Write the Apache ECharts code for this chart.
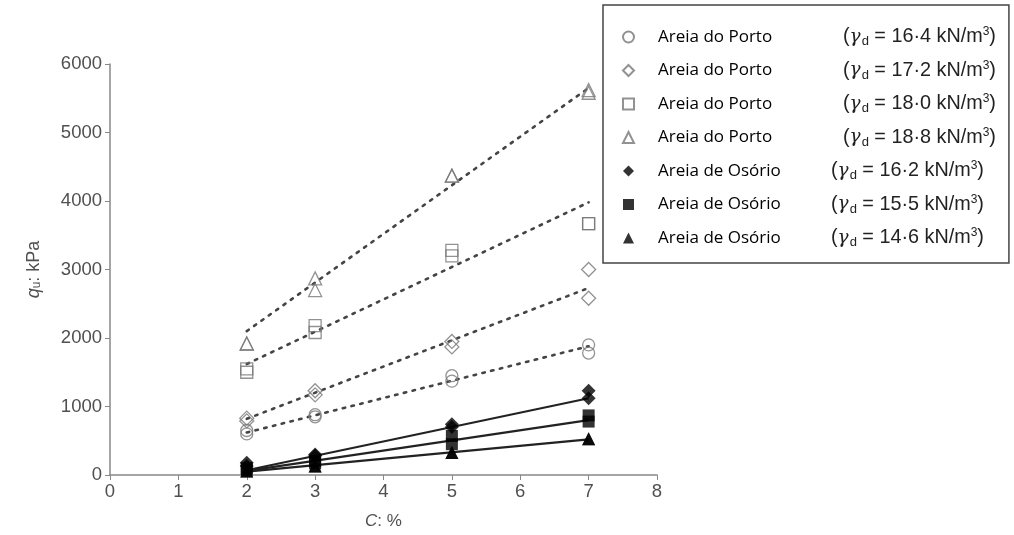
<!DOCTYPE html>
<html><head><meta charset="utf-8">
<script src="https://cdn.jsdelivr.net/npm/echarts@6/dist/echarts.min.js"></script>
<style>html,body{margin:0;padding:0;background:#fff}#c{width:1014px;height:535px}</style>
</head><body><div id="c"></div>
<script>
// ---- data ----
const xTicks = [0,1,2,3,4,5,6,7,8];
const yTicks = [0,1000,2000,3000,4000,5000,6000];
const seriesNames = ['P164','P172','P180','P188','O162','O155','O146'];
const sandLabels = ['Areia do Porto','Areia do Porto','Areia do Porto','Areia do Porto','Areia de Osório','Areia de Osório','Areia de Osório'];
const gammaLabels = ['16·4','17·2','18·0','18·8','16·2','15·5','14·6'];
const symbols = ['circle','diamond','rect','triangle','diamond','rect','triangle'];
const cPts = [2,2,3,3,5,5,7,7];
const qP164 = [650,600,880,850,1450,1370,1900,1780];
const qP172 = [830,790,1230,1170,1950,1870,3000,2580];
const qP180 = [1550,1500,2180,2080,3280,3200,3670,3670];
const qP188 = [1920,1920,2870,2700,4370,4370,5620,5580];
const qO162 = [180,130,300,280,740,700,1230,1120];
const qO155 = [100,80,200,170,570,450,870,780];
const qO146 = [60,60,130,130,330,330,530,530];
const fitC = [2,7];
const fitP164 = [620,1880];
const fitP172 = [820,2730];
const fitP180 = [1620,3980];
const fitP188 = [2100,5650];
const fitO162 = [70,1120];
const fitO155 = [60,800];
const fitO146 = [50,520];

const qAll = [qP164,qP172,qP180,qP188,qO162,qO155,qO146];
const fitAll = [fitP164,fitP172,fitP180,fitP188,fitO162,fitO155,fitO146];

const chart = echarts.init(document.getElementById('c'));
const series = [];
fitAll.forEach((f,i)=>{
  const porto = i<4;
  series.push({
    type:'line', silent:true, showSymbol:false, z:1,
    data: fitC.map((c,k)=>[c,f[k]]),
    lineStyle: porto ? {color:'#444', width:2.6, type:[2.5,6.5], cap:'round'} : {color:'#222', width:2.2, type:'solid'}
  });
});
qAll.forEach((q,i)=>{
  const porto = i<4;
  series.push({
    name: seriesNames[i], type:'scatter', z:3,
    symbol: symbols[i],
    symbolSize: symbols[i]==='diamond' ? 14 : (symbols[i]==='triangle' ? 13 : 12),
    data: cPts.map((c,k)=>[c,q[k]]),
    itemStyle: porto ? {color:'rgba(255,255,255,0)', borderColor:'#777', borderWidth:1.3} : {color:'#000', borderColor:'#000', borderWidth:0}
  });
});

const axisFont = {fontFamily:'Liberation Sans, Arial, sans-serif', fontSize:18.5, color:'#505050'};
chart.setOption({
  animation:false,
  backgroundColor:'#fff',
  grid:{left:110, right:357, top:64, bottom:60},
  xAxis:{type:'value', min:0, max:8, interval:1,
    axisLine:{onZero:false, lineStyle:{color:'#888', width:1.5}},
    axisTick:{length:5, lineStyle:{color:'#888'}},
    splitLine:{show:false},
    axisLabel:Object.assign({margin:7, formatter:v=>xTicks.includes(v)?String(v):''}, axisFont),
    name:'{i|C}{n|: %}', nameLocation:'middle', nameGap:38,
    nameTextStyle:{rich:{i:{fontFamily:'Liberation Sans',fontStyle:'italic',fontSize:17,color:'#505050'},n:{fontFamily:'Liberation Sans',fontSize:17,color:'#505050'}}}
  },
  yAxis:{type:'value', min:0, max:6000, interval:1000,
    axisLine:{show:true, lineStyle:{color:'#888', width:1.5}},
    axisTick:{show:true, length:5, lineStyle:{color:'#888'}},
    splitLine:{show:false},
    axisLabel:Object.assign({margin:8, formatter:v=>yTicks.includes(v)?String(v):''}, axisFont),
    name:'{i|q}{s|u}{n|: kPa}', nameLocation:'middle', nameGap:67, nameRotate:90,
    nameTextStyle:{rich:{
      i:{fontFamily:'Liberation Sans',fontStyle:'italic',fontSize:18,color:'#505050'},
      s:{fontFamily:'Liberation Sans',fontSize:12,color:'#505050',verticalAlign:'bottom',padding:[6,0,0,0]},
      n:{fontFamily:'Liberation Sans',fontSize:18,color:'#505050'}}}
  },
  legend:{
    show:true, orient:'vertical', left:603, top:5,
    data: seriesNames,
    itemWidth:11, itemHeight:11, itemGap:11.5,
    padding:[21,13,14,19],
    borderColor:'#444', borderWidth:1.5, borderRadius:0,
    formatter: name=>{
      const i = seriesNames.indexOf(name);
      const st = i<4 ? 'a' : 'o';
      return '{'+st+'|'+sandLabels[i]+'}{b|(}{g|γ}{s|d}{b| = '+gammaLabels[i]+' kN/m}{p|3}{b|)}';
    },
    textStyle:{
      padding:[0,0,0,19],
      rich:{
        a:{fontFamily:'Open Sans, sans-serif', fontSize:17, color:'#000', width:185, lineHeight:22},
        o:{fontFamily:'Open Sans, sans-serif', fontSize:17, color:'#000', width:173, lineHeight:22},
        b:{fontFamily:'Liberation Sans, Arial', fontSize:19.8, color:'#222', lineHeight:22},
        g:{fontFamily:'DejaVu Serif', fontStyle:'italic', fontSize:18.5, color:'#222', lineHeight:22},
        s:{fontFamily:'Liberation Sans, Arial', fontSize:13, color:'#222', verticalAlign:'bottom', lineHeight:22, padding:[9,0,0,1]},
        p:{fontFamily:'Liberation Sans, Arial', fontSize:12, color:'#222', verticalAlign:'top', lineHeight:22, padding:[0,0,9,0]}
      }
    }
  },
  series: series
});
</script></body></html>
